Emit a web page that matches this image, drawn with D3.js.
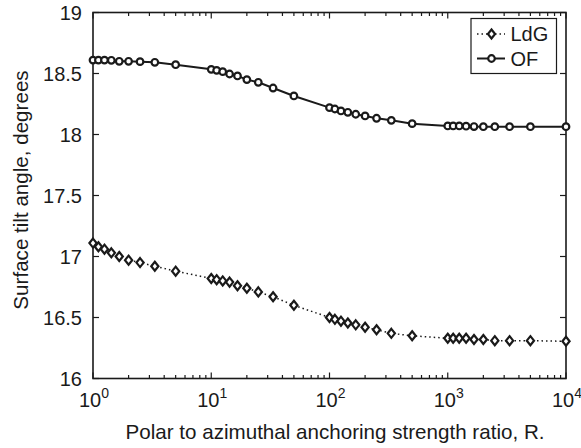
<!DOCTYPE html>
<html>
<head>
<meta charset="utf-8">
<script src="https://cdn.jsdelivr.net/npm/d3@7"></script>
<style>
  body { margin: 0; background: #fff; }
  svg text { font-family: "Liberation Sans", Arial, sans-serif; fill: #1a1a1a; }
</style>
</head>
<body>
<svg id="chart" width="581" height="448"></svg>
<script>
// anchoring strength ratio R (log axis)
var ratio = [1, 1.111, 1.25, 1.429, 1.667, 2, 2.5, 3.333, 5,
  10, 11.11, 12.5, 14.29, 16.67, 20, 25, 33.33, 50,
  100, 111.1, 125, 142.9, 166.7, 200, 250, 333.3, 500,
  1000, 1111, 1250, 1429, 1667, 2000, 2500, 3333, 5000, 10000];

var ldg = [17.11, 17.08, 17.06, 17.03, 17.00, 16.97, 16.95, 16.92, 16.88,
  16.82, 16.81, 16.80, 16.79, 16.76, 16.74, 16.71, 16.67, 16.60,
  16.50, 16.485, 16.47, 16.455, 16.44, 16.42, 16.40, 16.37, 16.35,
  16.33, 16.33, 16.33, 16.33, 16.32, 16.32, 16.31, 16.31, 16.31, 16.305];

var of = [18.61, 18.61, 18.61, 18.608, 18.60, 18.60, 18.597, 18.592, 18.572,
  18.534, 18.526, 18.515, 18.496, 18.48, 18.45, 18.428, 18.381, 18.316,
  18.22, 18.209, 18.193, 18.182, 18.166, 18.152, 18.133, 18.116, 18.089,
  18.07, 18.07, 18.07, 18.068, 18.065, 18.064, 18.064, 18.064, 18.064, 18.064];

var xMajor = [1, 10, 100, 1000, 10000];
var xExp = ["0", "1", "2", "3", "4"];
var yTicks = [16, 16.5, 17, 17.5, 18, 18.5, 19];
var yTickLabels = ["16", "16.5", "17", "17.5", "18", "18.5", "19"];
var seriesNames = ["LdG", "OF"];

var ink = "#1a1a1a";
var L = 93, R = 566, T = 12.5, B = 378.5;

var svg = d3.select("#chart");

var x = d3.scaleLog().domain([1, 10000]).range([L, R]);
var y = d3.scaleLinear().domain([16, 19]).range([B, T]);

// minor ticks 2..9 per decade
var xMinor = [];
xMajor.slice(0, -1).forEach(function(d) {
  for (var k = 2; k <= 9; k++) xMinor.push(d * k);
});

var g = svg.append("g");

// box
g.append("rect")
  .attr("x", L).attr("y", T)
  .attr("width", R - L).attr("height", B - T)
  .attr("fill", "none").attr("stroke", ink).attr("stroke-width", 1.6);

// x ticks bottom + top, inward
function xTick(vals, len) {
  g.selectAll(null).data(vals).enter().append("line")
    .attr("x1", d => x(d)).attr("x2", d => x(d))
    .attr("y1", B).attr("y2", B - len)
    .attr("stroke", ink).attr("stroke-width", 1.2);
  g.selectAll(null).data(vals).enter().append("line")
    .attr("x1", d => x(d)).attr("x2", d => x(d))
    .attr("y1", T).attr("y2", T + len)
    .attr("stroke", ink).attr("stroke-width", 1.2);
}
xTick(xMajor, 6);
xTick(xMinor, 3.5);

g.selectAll(null).data(yTicks).enter().append("line")
  .attr("x1", L).attr("x2", L + 6)
  .attr("y1", d => y(d)).attr("y2", d => y(d))
  .attr("stroke", ink).attr("stroke-width", 1.2);
g.selectAll(null).data(yTicks).enter().append("line")
  .attr("x1", R).attr("x2", R - 6)
  .attr("y1", d => y(d)).attr("y2", d => y(d))
  .attr("stroke", ink).attr("stroke-width", 1.2);

// tick labels
g.selectAll(null).data(yTicks).enter().append("text")
  .attr("x", L - 11).attr("y", d => y(d))
  .attr("dy", "0.36em")
  .attr("text-anchor", "end")
  .attr("font-size", "20px")
  .text((d, i) => yTickLabels[i]);

var xl = g.selectAll(null).data(xMajor).enter().append("text")
  .attr("x", d => x(d) + 1).attr("y", 406.5)
  .attr("text-anchor", "middle")
  .attr("font-size", "20px");
xl.append("tspan").text("10");
xl.append("tspan").attr("dy", -9).attr("font-size", "14px").text((d, i) => xExp[i]);

// axis titles
svg.append("text")
  .attr("x", 335).attr("y", 439)
  .attr("text-anchor", "middle")
  .attr("font-size", "20.6px")
  .text("Polar to azimuthal anchoring strength ratio, R.");

svg.append("text")
  .attr("transform", "translate(28," + 190 + ") rotate(-90)")
  .attr("text-anchor", "middle")
  .attr("font-size", "20.6px")
  .text("Surface tilt angle, degrees");

// series
var ptsL = ratio.map((r, i) => [r, ldg[i]]);
var ptsO = ratio.map((r, i) => [r, of[i]]);
var line = d3.line().x(d => x(d[0])).y(d => y(d[1]));

svg.append("path").datum(ptsL)
  .attr("d", line).attr("fill", "none")
  .attr("stroke", ink).attr("stroke-width", 1.5)
  .attr("stroke-dasharray", "1.5,3");

svg.append("path").datum(ptsO)
  .attr("d", line).attr("fill", "none")
  .attr("stroke", ink).attr("stroke-width", 2);

var diamond = "M0,-4.5L3.6,0L0,4.5L-3.6,0Z";

svg.selectAll(null).data(ptsL).enter().append("path")
  .attr("transform", d => "translate(" + x(d[0]) + "," + y(d[1]) + ")")
  .attr("d", diamond)
  .attr("fill", "#fff").attr("stroke", ink).attr("stroke-width", 2.2);

svg.selectAll(null).data(ptsO).enter().append("circle")
  .attr("cx", d => x(d[0])).attr("cy", d => y(d[1]))
  .attr("r", 3.3)
  .attr("fill", "#fff").attr("stroke", ink).attr("stroke-width", 2.2);

// legend
var lg = svg.append("g");
lg.append("rect")
  .attr("x", 471).attr("y", 18.5)
  .attr("width", 85.5).attr("height", 55)
  .attr("fill", "#fff").attr("stroke", ink).attr("stroke-width", 1.2);

lg.append("line")
  .attr("x1", 477).attr("x2", 505).attr("y1", 34).attr("y2", 34)
  .attr("stroke", ink).attr("stroke-width", 1.5).attr("stroke-dasharray", "1.5,3");
lg.append("path")
  .attr("transform", "translate(491.5,34)")
  .attr("d", diamond)
  .attr("fill", "#fff").attr("stroke", ink).attr("stroke-width", 2.2);

lg.append("line")
  .attr("x1", 477).attr("x2", 505).attr("y1", 58.5).attr("y2", 58.5)
  .attr("stroke", ink).attr("stroke-width", 2);
lg.append("circle")
  .attr("cx", 491.5).attr("cy", 58.5).attr("r", 3.3)
  .attr("fill", "#fff").attr("stroke", ink).attr("stroke-width", 2.2);

lg.selectAll(null).data(seriesNames).enter().append("text")
  .attr("x", 510.5).attr("y", (d, i) => i === 0 ? 34 : 58.5)
  .attr("dy", "0.36em")
  .attr("font-size", "20px")
  .text(d => d);
</script>
</body>
</html>
